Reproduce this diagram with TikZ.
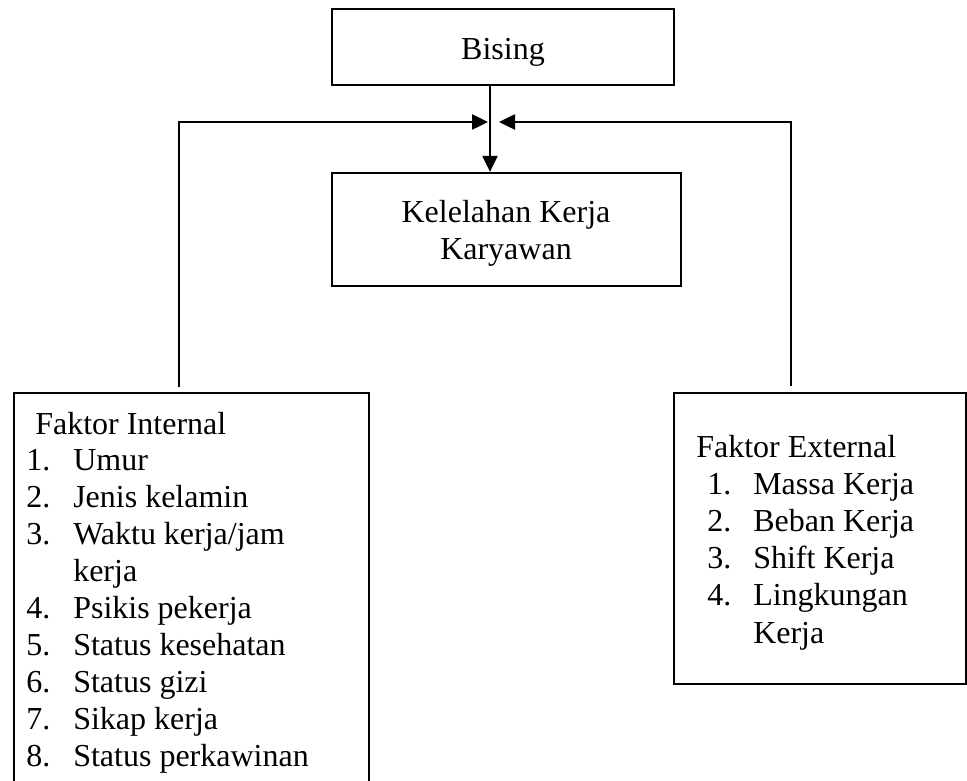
\documentclass[tikz,border=0pt]{standalone}
\usepackage{fontspec}
\setmainfont{Liberation Serif}
\usetikzlibrary{arrows.meta}
\begin{document}
\begin{tikzpicture}[x=0.75pt,y=-0.75pt,
  box/.style={draw, line width=1.8pt, inner sep=0pt, rectangle},
  conn/.style={line width=1pt},
  arr/.style={conn, -{Triangle[length=12pt,width=11.5pt]}},
  txt/.style={font=\fontsize{24}{27.7}\selectfont, inner sep=0pt},
  lt/.style={txt, anchor=base west},
  ct/.style={txt, anchor=base},
]
\clip (0,0) rectangle (967,781);
% boxes
\node[box, minimum width=256.5pt, minimum height=57pt] (bising) at (503,47) {};
\node[box, minimum width=261.75pt, minimum height=84.75pt] (kel) at (506.5,229.5) {};
\node[box, minimum width=266.25pt, minimum height=301.5pt] (int) at (191.5,594) {};
\node[box, minimum width=219pt, minimum height=218.25pt] (ext) at (820,538.5) {};
% texts
\node[ct] (tb) at (503,60) {Bising};
\node[ct] (tk1) at (506,222) {Kelelahan Kerja};
\node[ct] (tk2) at (506,259) {Karyawan};
% internal
\node[lt] (ih) at (35,434) {Faktor Internal};
\node[lt] (in1) at (26,470.9) {1.};  \node[lt] (it1) at (73,470.9) {Umur};
\node[lt] (in2) at (26,507.8) {2.};  \node[lt] (it2) at (73,507.8) {Jenis kelamin};
\node[lt] (in3) at (26,544.7) {3.};  \node[lt] (it3) at (73,544.7) {Waktu kerja/jam};
\node[lt] (it3b) at (73,581.6) {kerja};
\node[lt] (in4) at (26,618.5) {4.};  \node[lt] (it4) at (73,618.5) {Psikis pekerja};
\node[lt] (in5) at (26,655.4) {5.};  \node[lt] (it5) at (73,655.4) {Status kesehatan};
\node[lt] (in6) at (26,692.3) {6.};  \node[lt] (it6) at (73,692.3) {Status gizi};
\node[lt] (in7) at (26,729.2) {7.};  \node[lt] (it7) at (73,729.2) {Sikap kerja};
\node[lt] (in8) at (26,766.1) {8.};  \node[lt] (it8) at (73,766.1) {Status perkawinan};
% external
\node[lt] (eh) at (696,457) {Faktor External};
\node[lt] (en1) at (707,494.2) {1.};  \node[lt] (et1) at (753,494.2) {Massa Kerja};
\node[lt] (en2) at (707,531.4) {2.};  \node[lt] (et2) at (753,531.4) {Beban Kerja};
\node[lt] (en3) at (707,568.6) {3.};  \node[lt] (et3) at (753,568.6) {Shift Kerja};
\node[lt] (en4) at (707,605.8) {4.};  \node[lt] (et4) at (753,605.8) {Lingkungan};
\node[lt] (et4b) at (753,643) {Kerja};
% connectors
\coordinate (ax) at (490,0);
\coordinate (lx) at (179,0);
\coordinate (rx) at (791,0);
\coordinate (tipL) at (488,122);
\coordinate (tipR) at (499,122);
\draw[arr] (bising.south -| ax) -- (kel.north -| ax);
\draw[arr, shorten <=3.75pt] (int.north -| lx) |- (tipL);
\draw[arr, shorten <=4.5pt] (ext.north -| rx) |- (tipR);
\end{tikzpicture}
\end{document}
